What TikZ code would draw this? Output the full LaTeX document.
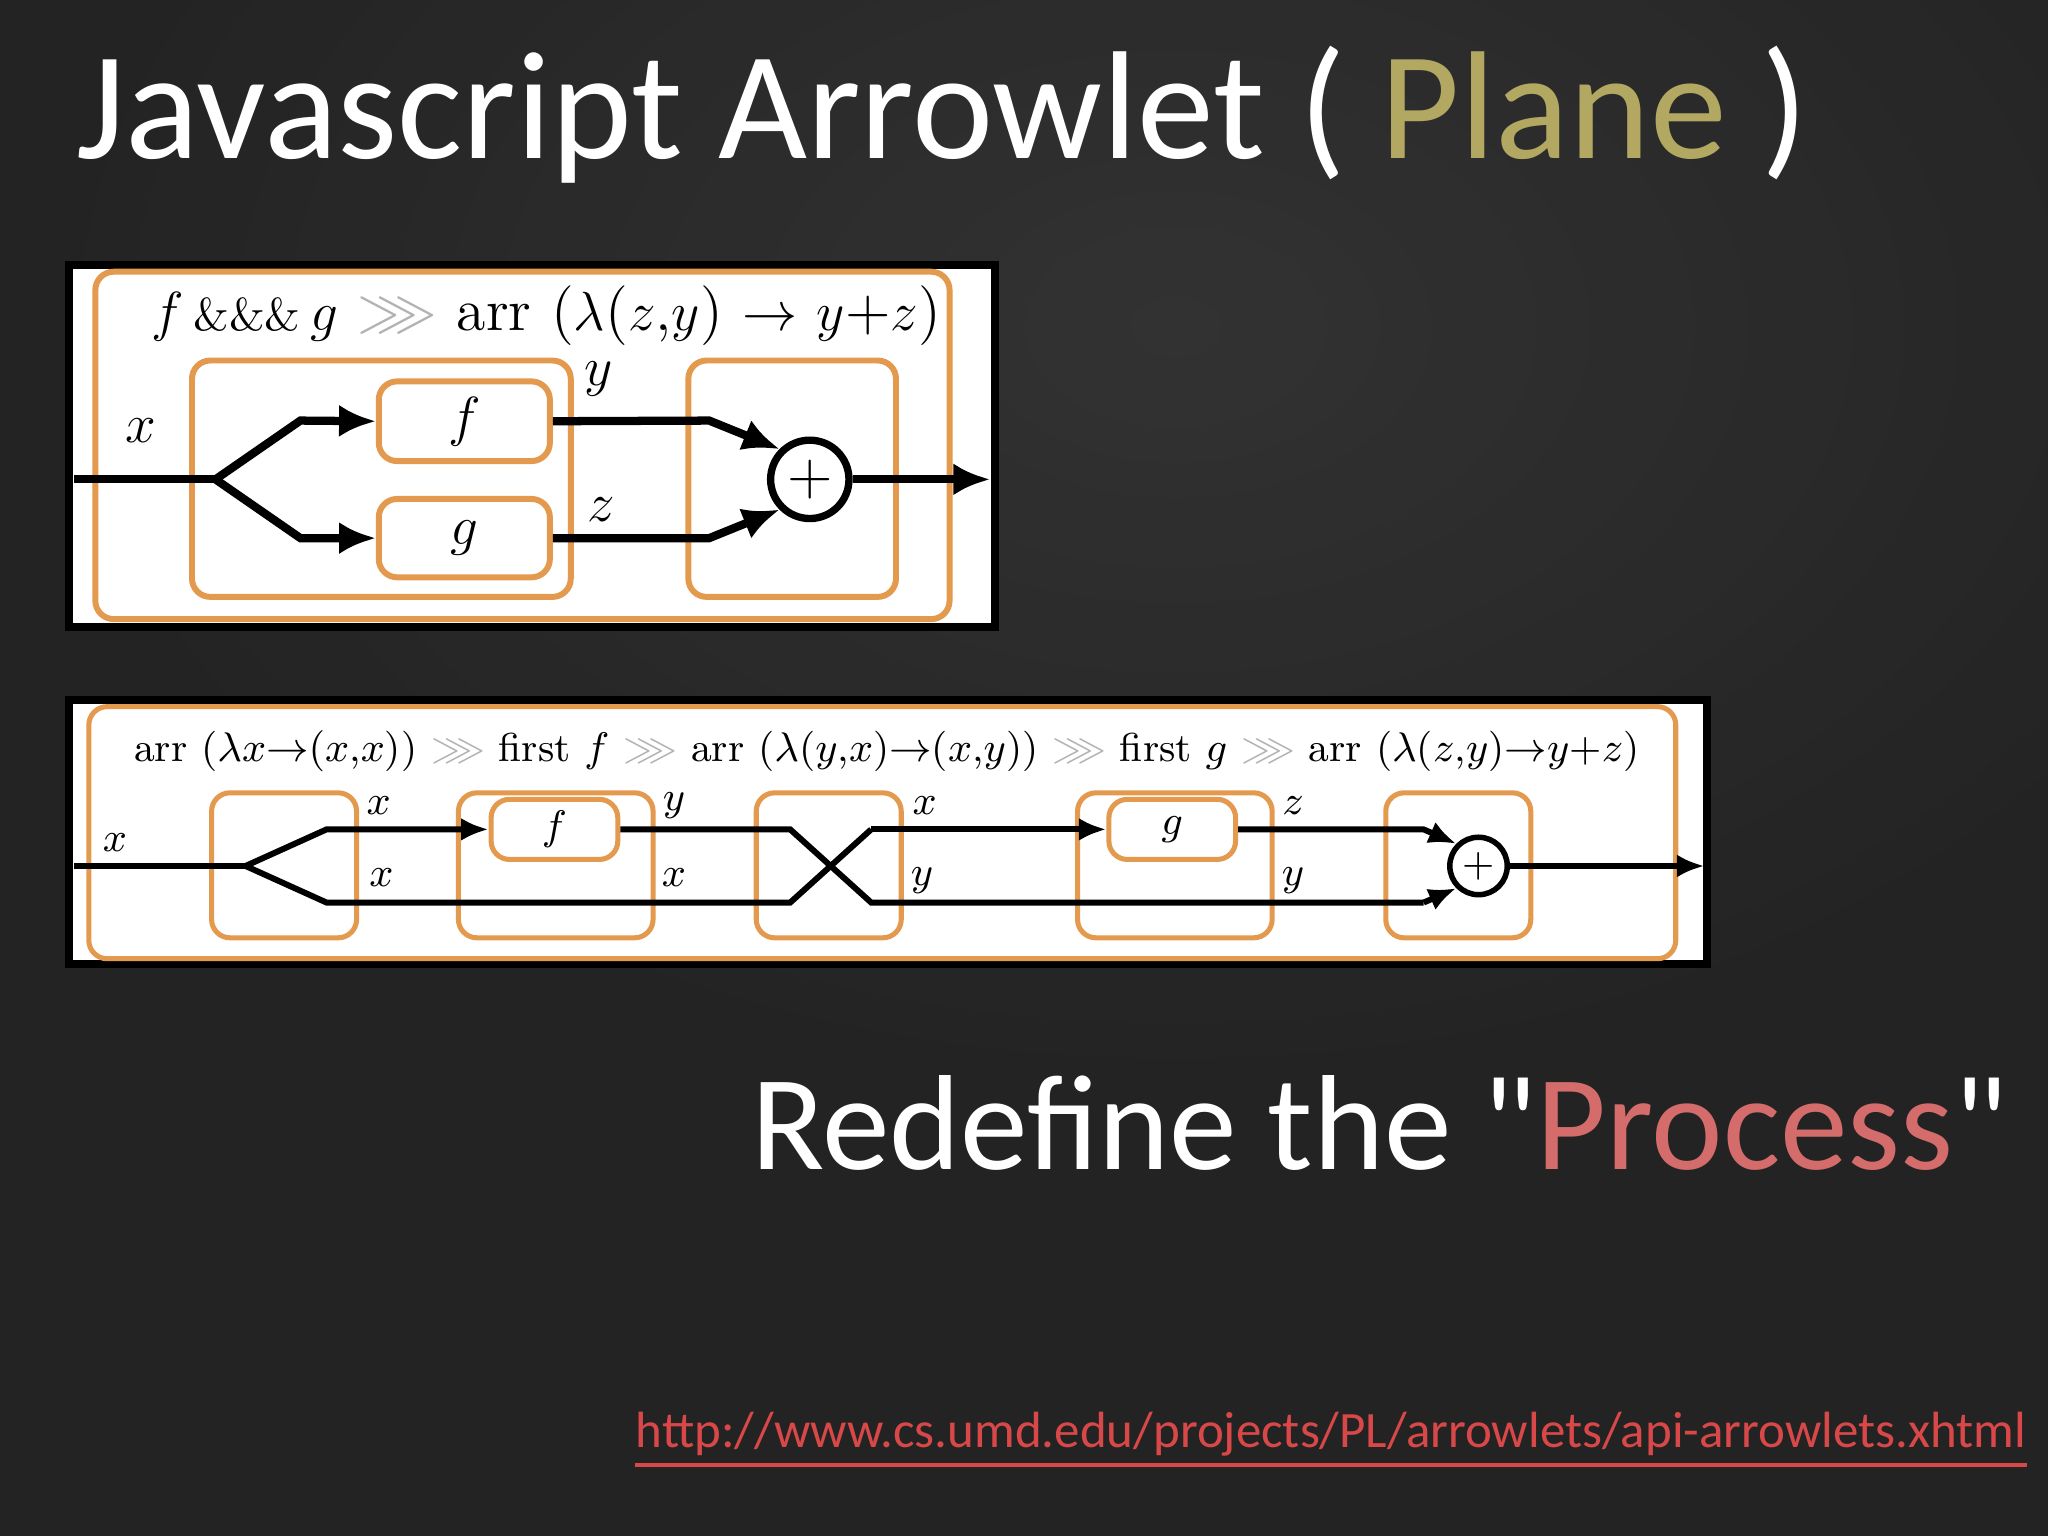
\documentclass[tikz,border=0pt]{standalone}
\usepackage{fontspec}
\usepackage{amssymb}
\setsansfont{Carlito}
\newfontfamily\carl{Carlito}
\usetikzlibrary{arrows.meta}
\definecolor{bg}{HTML}{232323}
\definecolor{org}{HTML}{E39A4E}
\definecolor{olive}{HTML}{B3A862}
\definecolor{pinkr}{HTML}{D46C6C}
\definecolor{urlr}{HTML}{D94848}
\tikzset{
 obox/.style={draw=org, line width=1.3pt, rounded corners=4pt},
 wire/.style={line width=1.8pt, black},
 awire/.style={wire, -{Latex[length=8pt,width=7pt]}},
 wire2/.style={line width=1.3pt, black},
 awire2/.style={wire2, -{Latex[length=6pt,width=5pt]}},
 lab/.style={inner sep=0pt, font=\fontsize{13}{15}\selectfont},
 lab2/.style={inner sep=0pt, font=\fontsize{8.8}{11}\selectfont},
}
\newcommand{\gr}{\textcolor{gray!60}{$\ggg$}}
\newcommand{\qq}{\symbol{34}}
\begin{document}
\begin{tikzpicture}[x=0.1mm,y=-0.1mm]
\useasboundingbox (0,0) rectangle (1568,1176);
\fill[bg] (0,0) rectangle (1568,1176);
\shade[inner color=gray!45!black, outer color=bg, opacity=0.7] (900,250) ellipse (900 and 600);
% titles
\node[anchor=west, inner sep=0pt, text=white, font=\sffamily\fontsize{33.5}{38}\selectfont] (title) at (58,88) {Javascript Arrowlet ( \textcolor{olive}{Plane} )};
\node[anchor=east, inner sep=0pt, text=white, font=\carl\fontsize{29.5}{34}\selectfont] (redef) at (1538,860) {Redefine the \qq\textcolor{pinkr}{Process}\qq};
\node[anchor=east, inner sep=0pt, text=urlr, font=\sffamily\fontsize{11.1}{14}\selectfont] (url) at (1552,1098) {http://www.cs.umd.edu/projects/PL/arrowlets/api-arrowlets.xhtml};
\draw[urlr, line width=0.8pt] ([yshift=-0.6mm]url.south west) -- ([yshift=-0.6mm]url.south east);
% ===== diagram 1 =====
\fill[black] (50,200) rectangle (765,483);
\fill[white] (56,206) rectangle (759,477);
\draw[obox] (73,208) rectangle (727,474);
\node[lab] (t1) at (418,242) {$f$\,{\fontsize{10}{12}\selectfont\&\&\&}\,$g$ \gr{} arr ($\lambda$($z$,$y$) $\to$ $y$+$z$)};
\draw[obox] (147,276) rectangle (437,457);
\draw[obox] (527,276) rectangle (686,457);
\node[obox, minimum width=13.1mm, minimum height=6.1mm, lab, draw=org] (f1) at (355.5,322.5) {$f$};
\node[obox, minimum width=13.1mm, minimum height=6.0mm, lab, draw=org] (g1) at (355.5,412) {$g$};
\node[draw, circle, line width=1.6pt, minimum size=6mm, inner sep=0pt, lab] (p1) at (620,367) {+};
\coordinate (in1) at (57,367);
\coordinate (fk1) at (165,367);
\coordinate (out1) at (758,367);
\draw[wire] (in1) -- (fk1);
\draw[awire] (fk1) -- (230,322) -- (f1.west);
\draw[awire] (fk1) -- (230,412) -- (g1.west);
\draw[awire] (f1.east) -- (543,322) -- (p1.north west);
\draw[awire] (g1.east) -- (543,412) -- (p1.south west);
\draw[awire] (p1.east) -- (out1);
\node[lab] (lx1) at (108,330) {$x$};
\node[lab] (ly1) at (458,290) {$y$};
\node[lab] (lz1) at (460,390) {$z$};
% ===== diagram 2 =====
\fill[black] (50,533) rectangle (1310,741);
\fill[white] (56,539) rectangle (1304,735);
\draw[obox, line width=1.1pt] (68,541) rectangle (1283,734);
\node[lab2] (t2) at (679,575) {arr ($\lambda x{\to}(x$,$x$)) \gr{} first $f$ \gr{} arr ($\lambda$($y$,$x$)${\to}$($x$,$y$)) \gr{} first $g$ \gr{} arr ($\lambda$($z$,$y$)${\to}y$+$z$)};
\foreach \n/\a/\b in {A/162/273, B/351/500, C/579/690, D/825/974, E/1061/1172}
  \draw[obox, line width=1.1pt] (\a,607) coordinate (\n) rectangle (\b,718);
\node[obox, line width=1.1pt, minimum width=9.7mm, minimum height=4.6mm, lab2] (f2) at (424.5,635) {$f$};
\node[obox, line width=1.1pt, minimum width=9.7mm, minimum height=4.6mm, lab2] (g2) at (897.5,635) {$g$};
\node[draw, circle, line width=1.2pt, minimum size=4.4mm, inner sep=0pt, lab2] (p2) at (1132,663) {+};
\coordinate (in2) at (57,663);
\coordinate (fk2) at (188,663);
\coordinate (out2) at (1305,663);
\draw[wire2] (in2) -- (fk2);
\draw[awire2] (fk2) -- (250,635) -- (f2.west);
\draw[wire2] (fk2) -- (250,691) -- (605,691) -- (667,635);
\draw[wire2] (f2.east) -- (605,635) -- (667,691) -- (1090,691);
\draw[awire2] (667,635) -- (g2.west);
\draw[awire2] (g2.east) -- (1090,635) -- (p2.north west);
\draw[awire2] (1090,691) -- (p2.south west);
\draw[awire2] (p2.east) -- (out2);
\node[lab2] at (88,645) {$x$};
\node[lab2] at (290,617) {$x$};
\node[lab2] at (292,672) {$x$};
\node[lab2] at (516,617) {$y$};
\node[lab2] at (516,672) {$x$};
\node[lab2] at (708,617) {$x$};
\node[lab2] at (706,674) {$y$};
\node[lab2] at (990,617) {$z$};
\node[lab2] at (990,674) {$y$};
\end{tikzpicture}
\end{document}
